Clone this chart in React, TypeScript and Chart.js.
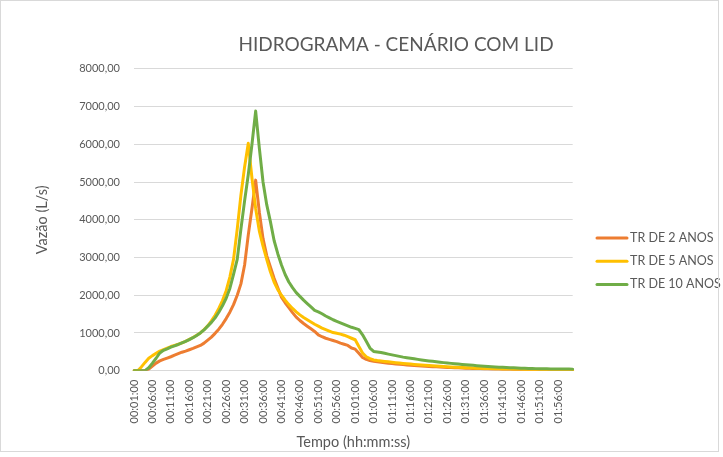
import React, { useEffect, useRef } from "react";
import { Chart, registerables } from "chart.js";

Chart.register(...registerables);

// ---- Data ----
const minutes: number[] = Array.from({ length: 120 }, (_, i) => i + 1);
const timeLabels: string[] = minutes.map(
  (m) => `${String(Math.floor(m / 60)).padStart(2, "0")}:${String(m % 60).padStart(2, "0")}:00`
);

const seriesNames = ["TR DE 2 ANOS", "TR DE 5 ANOS", "TR DE 10 ANOS"];
const seriesColors = ["#ED7D31", "#FFC000", "#70AD47"];

const tr2: number[] = [
  0, 0, 0, 0, 40, 120, 200, 260, 300, 335,
  370, 410, 450, 490, 520, 555, 590, 630, 670, 730,
  810, 890, 990, 1100, 1230, 1380, 1550, 1750, 2000, 2300,
  2800, 3600, 4300, 5050, 4200, 3500, 3050, 2750, 2450, 2200,
  1950, 1800, 1670, 1540, 1420, 1330, 1250, 1180, 1110, 1040,
  950, 900, 860, 830, 800, 770, 730, 700, 670, 600,
  570, 460, 350, 300, 270, 250, 235, 222, 210, 200,
  190, 180, 171, 162, 154, 146, 139, 132, 125, 119,
  113, 107, 102, 97, 92, 87, 83, 79, 75, 71,
  67, 64, 61, 58, 55, 52, 49, 47, 44, 42,
  40, 38, 36, 34, 32, 30, 29, 27, 26, 25,
  23, 22, 21, 20, 19, 18, 17, 16, 15, 14,
];

const tr5: number[] = [
  0, 0, 100, 220, 330, 400, 460, 520, 560, 600,
  640, 670, 700, 740, 780, 830, 880, 940, 1000, 1090,
  1190, 1320, 1470, 1650, 1860, 2120, 2480, 2950, 3750, 4650,
  5400, 6025, 5100, 4300, 3700, 3300, 2950, 2620, 2350, 2150,
  2000, 1870, 1750, 1650, 1560, 1480, 1410, 1350, 1290, 1230,
  1180, 1130, 1090, 1050, 1010, 990, 970, 940, 900, 860,
  820, 640, 470, 370, 320, 285, 270, 258, 246, 235,
  224, 213, 203, 193, 184, 175, 166, 158, 150, 143,
  136, 129, 122, 116, 110, 104, 99, 94, 89, 84,
  80, 76, 72, 68, 64, 61, 58, 55, 52, 49,
  46, 44, 42, 40, 38, 36, 34, 32, 30, 29,
  27, 26, 25, 24, 23, 22, 21, 20, 19, 18,
];

const tr10: number[] = [
  0, 0, 0, 0, 80, 200, 330, 470, 540, 580,
  625, 660, 695, 735, 775, 825, 875, 935, 1000, 1080,
  1180, 1280, 1400, 1550, 1720, 1920, 2180, 2550, 2950, 3750,
  4500, 5200, 6000, 6880, 5900, 5000, 4400, 3950, 3450, 3100,
  2800, 2550, 2350, 2200, 2070, 1970, 1870, 1780, 1690, 1600,
  1560, 1510, 1450, 1400, 1350, 1310, 1270, 1230, 1190, 1150,
  1120, 1090, 950, 780, 600, 510, 495, 480, 460, 440,
  420, 400, 380, 360, 345, 330, 315, 300, 285, 272,
  260, 248, 236, 225, 214, 204, 194, 184, 175, 166,
  158, 150, 142, 134, 126, 119, 112, 106, 100, 94,
  89, 84, 79, 75, 71, 67, 64, 61, 58, 55,
  53, 51, 49, 47, 46, 45, 44, 43, 42, 41,
];

const yTicks: number[] = [0, 1000, 2000, 3000, 4000, 5000, 6000, 7000, 8000];

const titleText = "HIDROGRAMA - CENÁRIO COM LID";
const xTitle = "Tempo (hh:mm:ss)";
const yTitle = "Vazão (L/s)";

// ---- Layout constants ----
const W = 723;
const H = 457;
const FONT = "Lato, 'Open Sans', sans-serif";
const TEXT = "#595959";
const GRID = "#d9d9d9";

const fmt = (v: number) => v.toFixed(2).replace(".", ",");

const titlePlugin = {
  id: "customTitle",
  afterDraw(chart: any) {
    const ctx = chart.ctx as CanvasRenderingContext2D;
    ctx.save();
    ctx.font = `19px ${FONT}`;
    ctx.fillStyle = TEXT;
    ctx.textAlign = "center";
    ctx.textBaseline = "middle";
    ctx.fillText(titleText, 396, 45);
    ctx.restore();
  },
};

const legendPlugin = {
  id: "customLegend",
  afterDraw(chart: any) {
    const ctx = chart.ctx as CanvasRenderingContext2D;
    const x0 = 596;
    const y0 = 238;
    const gap = 23.2;
    ctx.save();
    ctx.font = `12.5px ${FONT}`;
    ctx.textBaseline = "middle";
    ctx.textAlign = "left";
    seriesNames.forEach((name, i) => {
      const y = y0 + i * gap;
      ctx.strokeStyle = seriesColors[i];
      ctx.lineWidth = 3;
      ctx.lineCap = "round";
      ctx.beginPath();
      ctx.moveTo(x0 + 1, y);
      ctx.lineTo(x0 + 31, y);
      ctx.stroke();
      ctx.fillStyle = TEXT;
      ctx.fillText(name, x0 + 34, y);
    });
    ctx.restore();
  },
};

export default function App() {
  const ref = useRef<HTMLCanvasElement | null>(null);

  useEffect(() => {
    if (!ref.current) return;
    const datasets = [tr2, tr5, tr10].map((d, i) => ({
      label: seriesNames[i],
      data: d,
      borderColor: seriesColors[i],
      backgroundColor: seriesColors[i],
      borderWidth: 3,
      borderJoinStyle: "round" as const,
      borderCapStyle: "round" as const,
      pointRadius: 0,
      tension: 0,
      fill: false,
      order: 3 - i,
    }));
    const chart = new Chart(ref.current, {
      type: "line",
      data: { labels: timeLabels, datasets },
      plugins: [titlePlugin, legendPlugin],
      options: {
        responsive: false,
        animation: false,
        devicePixelRatio: 1,
        layout: { padding: { left: 0, top: 68.8, right: W - 572.7, bottom: 0 } },
        plugins: {
          legend: { display: false },
          title: { display: false },
          tooltip: { enabled: false },
        },
        scales: {
          x: {
            type: "category",
            offset: false,
            grid: { display: false, drawTicks: false },
            border: { display: false },
            ticks: {
              autoSkip: false,
              maxRotation: 90,
              minRotation: 90,
              padding: 9,
              color: TEXT,
              font: { family: FONT, size: 11 },
              callback: (_v: any, i: number) => (i % 5 === 0 ? timeLabels[i] : ""),
            },
            title: {
              display: true,
              text: xTitle,
              color: TEXT,
              font: { family: FONT, size: 14.5 },
              padding: { top: 0, bottom: 6 },
            },
            afterFit: (s: any) => {
              s.height = H - 370.7;
            },
          },
          y: {
            min: 0,
            max: 8000,
            grid: { color: GRID, lineWidth: 1, drawTicks: false },
            border: { display: false },
            afterBuildTicks: (s: any) => {
              s.ticks = yTicks.map((v) => ({ value: v }));
            },
            ticks: {
              padding: 14,
              color: TEXT,
              font: { family: FONT, size: 11 },
              callback: (v: any) => fmt(Number(v)),
            },
            title: {
              display: true,
              text: yTitle,
              color: TEXT,
              font: { family: FONT, size: 14.5 },
              padding: { top: 34, bottom: 0 },
            },
            afterFit: (s: any) => {
              s.width = 134;
            },
          },
        },
      },
    });
    return () => chart.destroy();
  }, []);

  return (
    <div
      style={{
        position: "fixed",
        left: 0,
        top: 0,
        width: W,
        height: H,
        background: "#fff",
      }}
    >
      <canvas ref={ref} width={W} height={H} style={{ display: "block" }} />
      <div
        style={{
          position: "absolute",
          left: 0,
          top: 0,
          width: 719,
          height: 452,
          border: `1px solid ${GRID}`,
          boxSizing: "border-box",
          pointerEvents: "none",
        }}
      />
    </div>
  );
}
